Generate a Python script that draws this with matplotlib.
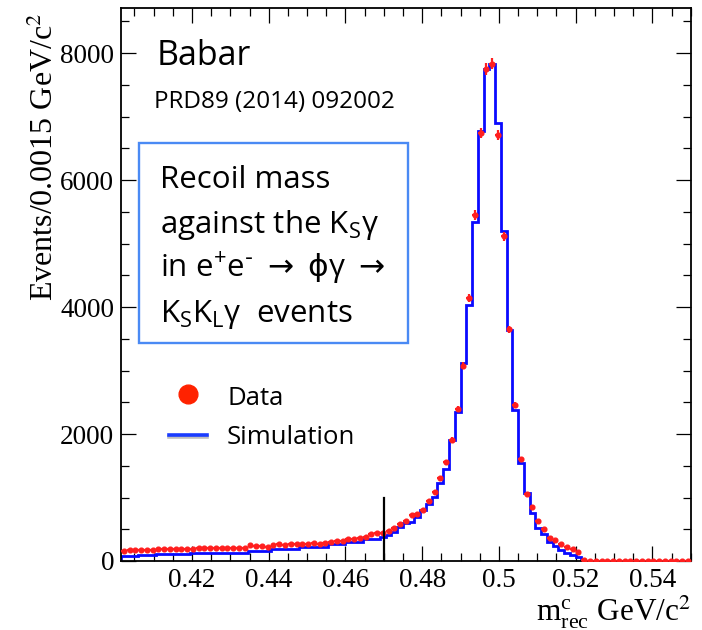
import numpy as np
import matplotlib
matplotlib.use("Agg")
import matplotlib.pyplot as plt
from matplotlib.ticker import MultipleLocator, FuncFormatter
from matplotlib.patches import Rectangle
from matplotlib.lines import Line2D
import matplotlib.patheffects as pe

# Binning: 0.0015 GeV/c^2 bins from 0.4015 to 0.55
bin_width = 0.0015
edges = np.round(0.4015 + bin_width * np.arange(100), 5)
centers = edges[:-1] + bin_width / 2

# Simulated recoil-mass spectrum (events per bin)
simulation = [
    79, 79, 79, 94, 94, 94, 110, 110, 110, 110,
    118, 118, 131, 131, 131, 131, 131, 131, 131, 131,
    131, 131, 163, 163, 163, 163, 184, 184, 184, 184,
    184, 226, 226, 226, 226, 226, 262, 262, 262, 304,
    304, 304, 341, 341, 341, 383, 410, 462, 541, 593,
    619, 688, 803, 892, 1003, 1234, 1449, 1900, 2341, 3113,
    4031, 5343, 6777, 7743, 7827, 6903, 5202, 3638, 2378, 1538,
    1066, 751, 514, 425, 304, 236, 173, 131, 94, 58,
    0, 0, 0, 0, 0, 0, 0, 0, 0, 0,
    0, 0, 0, 0, 0, 0, 0, 0, 0,
]

# Measured events per bin
data = [
    163, 170, 175, 172, 176, 174, 185, 188, 184, 190,
    192, 187, 195, 205, 203, 207, 205, 210, 203, 206,
    200, 208, 245, 240, 232, 225, 255, 262, 258, 268,
    264, 272, 270, 278, 275, 280, 305, 310, 318, 340,
    350, 355, 385, 420, 435, 445, 480, 520, 585, 635,
    719, 735, 803, 945, 1092, 1302, 1559, 1905, 2394, 3076,
    4137, 5449, 6745, 7750, 7830, 6709, 5118, 3648, 2457, 1601,
    1050, 856, 635, 499, 367, 331, 268, 226, 184, 147,
    16, 0, 0, 0, 0, 0, 0, 0, 0, 0,
    0, 0, 0, 0, 0, 0, 0, 0, 0,
]

cut_mass = 0.47
cut_height = 1000

W, H = 702, 630
fig = plt.figure(figsize=(W / 100, H / 100), dpi=100)


def fx(px):
    return px / W


def fy(py):
    return 1 - py / H


ax = fig.add_axes([fx(121), fy(561), (690.7 - 121) / W, (561 - 8) / H])

ax.stairs(simulation, edges, color="#0a0aff", linewidth=2.0, zorder=2)
data_arr = np.array(data, dtype=float)
ax.errorbar(centers, data_arr, xerr=bin_width / 2, yerr=np.sqrt(data_arr),
            fmt="o", ms=3.4, color="#ff1f1f", ecolor="#ff1f1f",
            elinewidth=1.6, capsize=0, zorder=3)
ax.plot([cut_mass, cut_mass], [0, cut_height], color="black", linewidth=1.6, zorder=4)

ax.set_xlim(0.4015, 0.55)
ax.set_ylim(0, 8710)

ax.xaxis.set_major_locator(MultipleLocator(0.02))
ax.xaxis.set_minor_locator(MultipleLocator(0.005))
ax.yaxis.set_major_locator(MultipleLocator(2000))
ax.yaxis.set_minor_locator(MultipleLocator(500))
ax.xaxis.set_major_formatter(FuncFormatter(lambda v, p: f"{v:g}"))
ax.yaxis.set_major_formatter(FuncFormatter(lambda v, p: f"{v:g}"))

ax.tick_params(which="both", direction="in", top=True, right=True,
               width=0.9, colors="black")
ax.tick_params(which="major", length=10.8)
ax.tick_params(which="minor", length=5.6)
ax.tick_params(axis="x", which="major", pad=5)
ax.tick_params(axis="y", which="major", pad=5)
for lab in ax.get_xticklabels() + ax.get_yticklabels():
    lab.set_fontfamily("Liberation Serif")
    lab.set_fontsize(19.5)
for sp in ax.spines.values():
    sp.set_linewidth(1.3)

# Axis titles
fig.text(fx(45), fy(157), "Events/0.0015 GeV/c$^{2}$", rotation=90,
         fontsize=23, family="Liberation Serif", math_fontfamily="stix",
         ha="center", va="center")
fig.text(fx(691), fy(621), r"m$_{\mathregular{rec}}^{\mathregular{c}}$ GeV/c$^{2}$",
         fontsize=22.5, family="Liberation Serif", math_fontfamily="stix",
         ha="right", va="baseline")

# Experiment label and reference
sans = "Open Sans"
fig.text(fx(157), fy(65), "Babar", fontsize=24.5, family=sans, va="baseline")
fig.text(fx(154), fy(108), "PRD89 (2014) 092002", fontsize=17.5, family=sans,
         va="baseline")

# Description box
box = Rectangle((fx(139.3), fy(343.3)), (408.3 - 139.3) / W, 200 / H,
                transform=fig.transFigure, facecolor="white",
                edgecolor="#4a8af4", linewidth=1.7, zorder=5)
fig.add_artist(box)
box_lines = [
    "Recoil mass",
    r"against the K$_{\mathregular{S}}$γ",
    r"in e$^{\mathregular{+}}$e$^{\text{-}}$ $\rightarrow$ $\mathrm{\phi}$γ $\rightarrow$",
    r"K$_{\mathregular{S}}$K$_{\mathregular{L}}$γ  events",
]
for i, line in enumerate(box_lines):
    fig.text(fx(160), fy(188.3 + 44.5 * i), line, fontsize=22.5, family=sans,
             math_fontfamily="dejavusans", va="baseline", zorder=6)

# Legend
fig.add_artist(Line2D([fx(188)], [fy(394)], marker="o", markersize=13.5,
                      color="#ff2200", linestyle="none",
                      transform=fig.transFigure))
fig.add_artist(Line2D([fx(169), fx(207)], [fy(435), fy(435)], color="#1a3cff",
                      linewidth=2.6, transform=fig.transFigure,
                      path_effects=[pe.SimpleLineShadow(offset=(0, -1.5),
                                                        alpha=0.25),
                                    pe.Normal()]))
fig.text(fx(227), fy(405), "Data", fontsize=18.5, family=sans, va="baseline")
fig.text(fx(227), fy(444), "Simulation", fontsize=18.5, family=sans, va="baseline")

fig.savefig("out.png", dpi=100)
